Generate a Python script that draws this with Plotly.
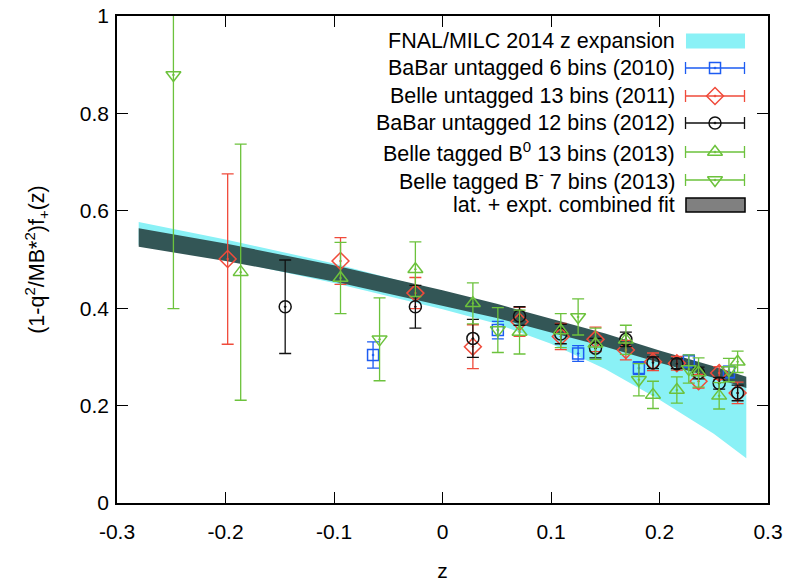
import plotly.graph_objects as go

# ---------------- data ----------------
band_z = [-0.28, -0.2, -0.1, 0.0, 0.05, 0.1, 0.15, 0.2, 0.25, 0.28]
fnal_lo = [0.530, 0.500, 0.452, 0.398, 0.368, 0.327, 0.275, 0.212, 0.142, 0.092]
fnal_hi = [0.577, 0.541, 0.492, 0.434, 0.404, 0.372, 0.338, 0.302, 0.266, 0.245]
fit_lo = [0.526, 0.497, 0.455, 0.406, 0.380, 0.350, 0.321, 0.288, 0.257, 0.236]
fit_hi = [0.564, 0.533, 0.488, 0.437, 0.409, 0.378, 0.348, 0.313, 0.281, 0.259]

babar10_z = [-0.064, 0.051, 0.125, 0.181, 0.227, 0.264]
babar10_v = [0.304, 0.355, 0.307, 0.277, 0.291, 0.269]
babar10_e = [0.027, 0.018, 0.016, 0.013, 0.013, 0.012]

belle11_z = [-0.198, -0.094, -0.025, 0.028, 0.071, 0.109, 0.141, 0.169, 0.194, 0.216, 0.236, 0.255, 0.272]
belle11_v = [0.501, 0.497, 0.431, 0.321, 0.372, 0.342, 0.336, 0.314, 0.290, 0.287, 0.250, 0.267, 0.226]
belle11_e = [0.175, 0.048, 0.032, 0.045, 0.030, 0.027, 0.025, 0.020, 0.018, 0.014, 0.014, 0.013, 0.022]

babar12_z = [-0.145, -0.025, 0.028, 0.071, 0.109, 0.141, 0.169, 0.194, 0.216, 0.236, 0.255, 0.272]
babar12_v = [0.403, 0.403, 0.338, 0.384, 0.347, 0.318, 0.336, 0.288, 0.286, 0.267, 0.246, 0.226]
babar12_e = [0.096, 0.044, 0.039, 0.019, 0.020, 0.020, 0.015, 0.012, 0.010, 0.012, 0.012, 0.016]

belleB0_z = [-0.186, -0.094, -0.025, 0.028, 0.071, 0.109, 0.141, 0.169, 0.194, 0.216, 0.236, 0.255, 0.272]
belleB0_v = [0.474, 0.462, 0.480, 0.410, 0.351, 0.354, 0.327, 0.335, 0.222, 0.232, 0.268, 0.220, 0.290]
belleB0_e = [0.263, 0.073, 0.056, 0.042, 0.045, 0.035, 0.032, 0.030, 0.028, 0.027, 0.030, 0.027, 0.022]

belleBm_z = [-0.248, -0.058, 0.051, 0.125, 0.181, 0.227, 0.264]
belleBm_v = [0.879, 0.336, 0.355, 0.382, 0.253, 0.275, 0.273]
belleBm_e = [0.480, 0.085, 0.046, 0.037, 0.033, 0.029, 0.024]

x_ticks = [-0.3, -0.2, -0.1, 0.0, 0.1, 0.2, 0.3]
x_labels = ["-0.3", "-0.2", "-0.1", "0", "0.1", "0.2", "0.3"]
y_ticks = [0, 0.2, 0.4, 0.6, 0.8, 1.0]
y_labels = ["0", "0.2", "0.4", "0.6", "0.8", "1"]

legend_labels = [
    "FNAL/MILC 2014 z expansion",
    "BaBar untagged 6 bins (2010)",
    "Belle untagged 13 bins (2011)",
    "BaBar untagged 12 bins (2012)",
    "Belle tagged B<sup>0</sup> 13 bins (2013)",
    "Belle tagged B<sup>-</sup> 7 bins (2013)",
    "lat. + expt. combined fit",
]

# ---------------- styles ----------------
CYAN = "#8af1f6"
DARK = "#335656"
BLUE = "#1d5cf2"
RED = "#f04b3b"
BLACK = "#111111"
GREEN = "#6cc23c"
FONT = "Liberation Sans"

fig = go.Figure()

# bands
fig.add_trace(go.Scatter(x=band_z, y=fnal_lo, mode="lines", line=dict(width=0),
                         hoverinfo="skip", showlegend=False))
fig.add_trace(go.Scatter(x=band_z, y=fnal_hi, mode="lines", line=dict(width=0),
                         fill="tonexty", fillcolor=CYAN, hoverinfo="skip", showlegend=False))
fig.add_trace(go.Scatter(x=band_z, y=fit_lo, mode="lines", line=dict(width=0),
                         hoverinfo="skip", showlegend=False))
fig.add_trace(go.Scatter(x=band_z, y=fit_hi, mode="lines", line=dict(width=0),
                         fill="tonexty", fillcolor=DARK, hoverinfo="skip", showlegend=False))

series = [
    (babar10_z, babar10_v, babar10_e, BLUE, "square-open-dot", 11),
    (belle11_z, belle11_v, belle11_e, RED, "diamond-open-dot", 13),
    (babar12_z, babar12_v, babar12_e, BLACK, "circle-open-dot", 12),
    (belleB0_z, belleB0_v, belleB0_e, GREEN, "triangle-up-open-dot", 13),
    (belleBm_z, belleBm_v, belleBm_e, GREEN, "triangle-down-open-dot", 13),
]
for z, v, e, c, sym, sz in series:
    fig.add_trace(go.Scatter(
        x=z, y=v, mode="markers",
        marker=dict(symbol=sym, size=sz, color=c, line=dict(color=c, width=1.5)),
        error_y=dict(type="data", array=e, color=c, thickness=1.3, width=6),
        showlegend=False, cliponaxis=True))

# ---------------- hand-made legend (gnuplot style, sample on the right) ----------------
row_y = [0.9487, 0.8932, 0.8357, 0.7803, 0.7207, 0.6632, 0.6119]
text_x = 0.858
sw_x0, sw_x1 = 0.874, 0.9647
sw_xc = 0.9186
sw_half = 0.0453

for lbl, ry in zip(legend_labels, row_y):
    fig.add_annotation(x=text_x, y=ry, xref="paper", yref="paper", text=lbl, showarrow=False,
                       xanchor="right", yanchor="middle", borderpad=0,
                       font=dict(family=FONT, size=21.5, color="black"))

fig.add_shape(type="rect", xref="paper", yref="paper", x0=sw_x0, x1=sw_x1,
              y0=row_y[0] - 0.0155, y1=row_y[0] + 0.0155, fillcolor=CYAN, line=dict(width=0))
fig.add_shape(type="rect", xref="paper", yref="paper", x0=sw_x0, x1=sw_x1,
              y0=row_y[6] - 0.0145, y1=row_y[6] + 0.0145, fillcolor="#808080",
              line=dict(color="black", width=1.5))

for (z, v, e, c, sym, sz), ry in zip(series, row_y[1:6]):
    fig.add_trace(go.Scatter(
        x=[sw_xc], y=[ry], xaxis="x2", yaxis="y2", mode="markers",
        marker=dict(symbol=sym, size=sz, color=c, line=dict(color=c, width=1.5)),
        error_x=dict(type="data", array=[sw_half], color=c, thickness=1.3, width=6),
        showlegend=False, hoverinfo="skip"))

axis_common = dict(showline=True, linecolor="black", linewidth=1.5, mirror="ticks",
                   ticks="inside", ticklen=11, tickwidth=1.3, tickcolor="black",
                   showgrid=False, zeroline=False, automargin=False,
                   tickfont=dict(family=FONT, size=21, color="black"))

fig.update_layout(
    width=787, height=582,
    margin=dict(l=117, r=19, t=16, b=79),
    paper_bgcolor="white", plot_bgcolor="white",
    showlegend=False,
    xaxis=dict(range=[-0.3, 0.3], tickvals=x_ticks, ticktext=x_labels, ticklabelstandoff=9,
               title=dict(text="z", font=dict(family=FONT, size=21, color="black"), standoff=21),
               **axis_common),
    yaxis=dict(range=[0, 1], tickvals=y_ticks, ticktext=y_labels, ticklabelstandoff=2,
               title=dict(text="(1-q<sup>2</sup>/MB*<sup>2</sup>)f<sub>+</sub>(z)",
                          font=dict(family=FONT, size=21.5, color="black"), standoff=29),
               **axis_common),
    xaxis2=dict(overlaying="x", range=[0, 1], visible=False, anchor="y2", automargin=False),
    yaxis2=dict(overlaying="y", range=[0, 1], visible=False, anchor="x2", automargin=False),
)

fig.write_html("out.html")
